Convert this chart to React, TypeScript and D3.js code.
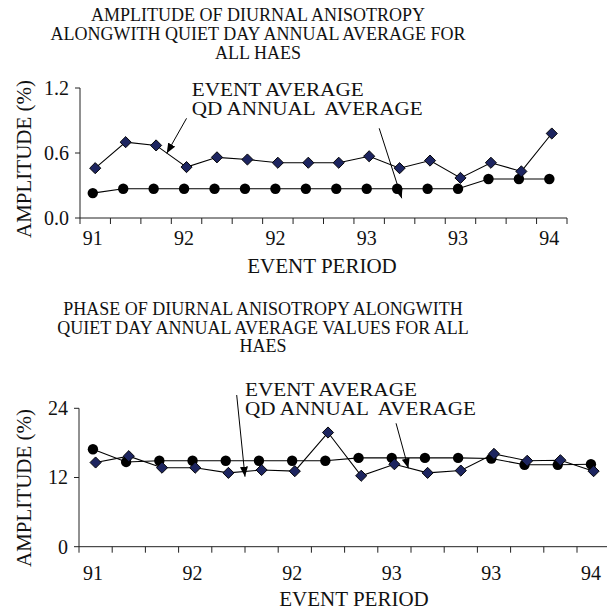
import React from "react";
import * as d3 from "d3";

// ---------- data ----------
const xTickLabels = ["91", "92", "92", "93", "93", "94"]; // every 3rd category
const categoryCount = 16;

const ampEventAverage = [0.46, 0.70, 0.67, 0.47, 0.56, 0.54, 0.51, 0.51, 0.51, 0.57, 0.46, 0.53, 0.37, 0.51, 0.43, 0.78];
const ampQdAnnual = [0.23, 0.27, 0.27, 0.27, 0.27, 0.27, 0.27, 0.27, 0.27, 0.27, 0.27, 0.27, 0.27, 0.36, 0.36, 0.36];

const phaseEventAverage = [14.6, 15.7, 13.7, 13.7, 12.8, 13.3, 13.1, 19.8, 12.3, 14.3, 12.8, 13.2, 16.1, 14.9, 15.0, 13.1];
const phaseQdAnnual = [16.9, 14.7, 14.9, 14.9, 14.9, 14.9, 14.9, 14.9, 15.4, 15.4, 15.4, 15.4, 15.3, 14.2, 14.2, 14.3];

const ampYTicks = [0, 0.6, 1.2];
const phaseYTicks = [0, 12, 24];

const ampTitle = ["AMPLITUDE OF DIURNAL ANISOTROPY", "ALONGWITH QUIET DAY ANNUAL AVERAGE FOR", "ALL HAES"];
const phaseTitle = ["PHASE OF DIURNAL ANISOTROPY ALONGWITH", "QUIET DAY ANNUAL AVERAGE VALUES FOR ALL", "HAES"];
const legendLines = ["EVENT AVERAGE", "QD ANNUAL  AVERAGE"];
const legendWidths = [172, 231];
const yTitle = "AMPLITUDE (%)";
const xTitle = "EVENT PERIOD";

const FONT = "'Liberation Serif', 'Times New Roman', serif";
const NAVY = "#1d2560";

type Ann = { tx: number; tv: number[]; arrows: [number, number, number, number][] };

type ChartProps = {
  id: string;
  title: string[];
  titleX: number;
  titleY: number[];
  xRange: [number, number];
  yRange: [number, number];
  yDomain: [number, number];
  yTicks: number[];
  yFmt: (v: number) => string;
  event: number[];
  qd: number[];
  xLabelDy: number;
  xTitlePos: [number, number];
  yTitleCenter: number;
  ann: Ann;
};

function Chart(p: ChartProps) {
  const idx = d3.range(categoryCount);
  const x = d3.scaleBand<number>().domain(idx).range(p.xRange).padding(0);
  const step = x.step();
  const cx = (i: number) => (x(Math.floor(i)) ?? 0) + step / 2 + (i - Math.floor(i)) * step;
  const cxf = (i: number) => p.xRange[0] + (i + 0.5) * step;
  const qdShift = -0.08 * step;
  const y = d3.scaleLinear().domain(p.yDomain).range(p.yRange);
  const x0 = p.xRange[0];
  const yBase = p.yRange[0];

  const lineEvent = d3.line<number>().x((_, i) => cx(i)).y((v) => y(v));
  const lineQd = d3.line<number>().x((_, i) => cx(i) + qdShift).y((v) => y(v));
  const diamond = d3.symbol().type(d3.symbolSquare).size(62)();
  const bounds = idx.map((i) => x(i) ?? 0).concat([p.xRange[1]]);

  return (
    <g>
      {p.title.map((t, i) => (
        <text key={i} x={p.titleX} y={p.titleY[i]} textAnchor="middle" fontSize={18} fontFamily={FONT} fill="#111">
          {t}
        </text>
      ))}
      {/* axes */}
      <line x1={x0} x2={x0} y1={p.yRange[1]} y2={yBase} stroke="#222" strokeWidth={1} />
      <line x1={x0} x2={p.xRange[1]} y1={yBase} y2={yBase} stroke="#222" strokeWidth={1} />
      {p.yTicks.map((t) => (
        <g key={t}>
          <line x1={x0 - 5} x2={x0} y1={y(t)} y2={y(t)} stroke="#222" />
          <text x={x0 - 11} y={y(t)} dy="0.34em" textAnchor="end" fontSize={20} fontFamily={FONT} fill="#111">
            {p.yFmt(t)}
          </text>
        </g>
      ))}
      {bounds.map((b, i) => (
        <line key={i} x1={b} x2={b} y1={yBase} y2={yBase + 6} stroke="#222" />
      ))}
      {xTickLabels.map((l, k) => (
        <text key={k} x={cx(k * 3) + qdShift} y={yBase + p.xLabelDy} textAnchor="middle" fontSize={20} fontFamily={FONT} fill="#111">
          {l}
        </text>
      ))}
      <text x={p.xTitlePos[0]} y={p.xTitlePos[1]} textAnchor="middle" fontSize={21} fontFamily={FONT} fill="#111">
        {xTitle}
      </text>
      <text transform={`translate(31,${p.yTitleCenter}) rotate(-90)`} textAnchor="middle" fontSize={21} fontFamily={FONT} fill="#111">
        {yTitle}
      </text>
      {/* series */}
      <path d={lineQd(p.qd) ?? ""} fill="none" stroke="#000" strokeWidth={1.1} />
      <path d={lineEvent(p.event) ?? ""} fill="none" stroke="#000" strokeWidth={1.1} />
      {p.qd.map((v, i) => (
        <circle key={i} cx={cx(i) + qdShift} cy={y(v)} r={5.2} fill="#000" />
      ))}
      {p.event.map((v, i) => (
        <path key={i} d={diamond ?? ""} transform={`translate(${cx(i)},${y(v)}) rotate(45)`} fill={NAVY} stroke="#000" strokeWidth={0.9} />
      ))}
      {/* annotation */}
      {legendLines.map((l, i) => (
        <text
          key={i}
          x={cxf(p.ann.tx)}
          y={y(p.ann.tv[i])}
          fontSize={18.5}
          textLength={legendWidths[i]}
          lengthAdjust="spacingAndGlyphs"
          fontFamily={FONT}
          fill="#111"
          style={{ whiteSpace: "pre" }}
        >
          {l}
        </text>
      ))}
      {p.ann.arrows.map((a, i) => (
        <line key={i} x1={cxf(a[0])} y1={y(a[1])} x2={cxf(a[2])} y2={y(a[3])} stroke="#000" strokeWidth={1} markerEnd={`url(#arr-${p.id})`} />
      ))}
      <defs>
        <marker id={`arr-${p.id}`} viewBox="0 0 10 8" refX={10} refY={4} markerWidth={10} markerHeight={8} markerUnits="userSpaceOnUse" orient="auto">
          <path d="M0,0 L10,4 L0,8 Z" fill="#000" />
        </marker>
      </defs>
    </g>
  );
}

export default function App() {
  return (
    <svg width={607} height={610} style={{ position: "absolute", left: 0, top: 0, background: "#fff" }}>
      <rect width={607} height={610} fill="#fff" />
      <Chart
        id="amp"
        title={ampTitle}
        titleX={258}
        titleY={[20.7, 40, 59.3]}
        xRange={[80, 567]}
        yRange={[218, 88]}
        yDomain={[0, 1.2]}
        yTicks={ampYTicks}
        yFmt={d3.format(".1f")}
        event={ampEventAverage}
        qd={ampQdAnnual}
        xLabelDy={27}
        xTitlePos={[322, 273]}
        yTitleCenter={159}
        ann={{
          tx: 3.17,
          tv: [1.13, 0.955],
          arrows: [
            [3.0, 0.92, 2.35, 0.597],
            [9.33, 0.828, 10.07, 0.182],
          ],
        }}
      />
      <Chart
        id="phase"
        title={phaseTitle}
        titleX={263}
        titleY={[315, 333.5, 352]}
        xRange={[79, 610.2]}
        yRange={[546.7, 408.3]}
        yDomain={[0, 24]}
        yTicks={phaseYTicks}
        yFmt={d3.format("d")}
        event={phaseEventAverage}
        qd={phaseQdAnnual}
        xLabelDy={33}
        xTitlePos={[354, 606]}
        yTitleCenter={488}
        ann={{
          tx: 4.5,
          tv: [26.2, 22.9],
          arrows: [
            [4.25, 26.3, 4.5, 12.14],
            [9.05, 21.4, 9.42, 13.6],
          ],
        }}
      />
    </svg>
  );
}
